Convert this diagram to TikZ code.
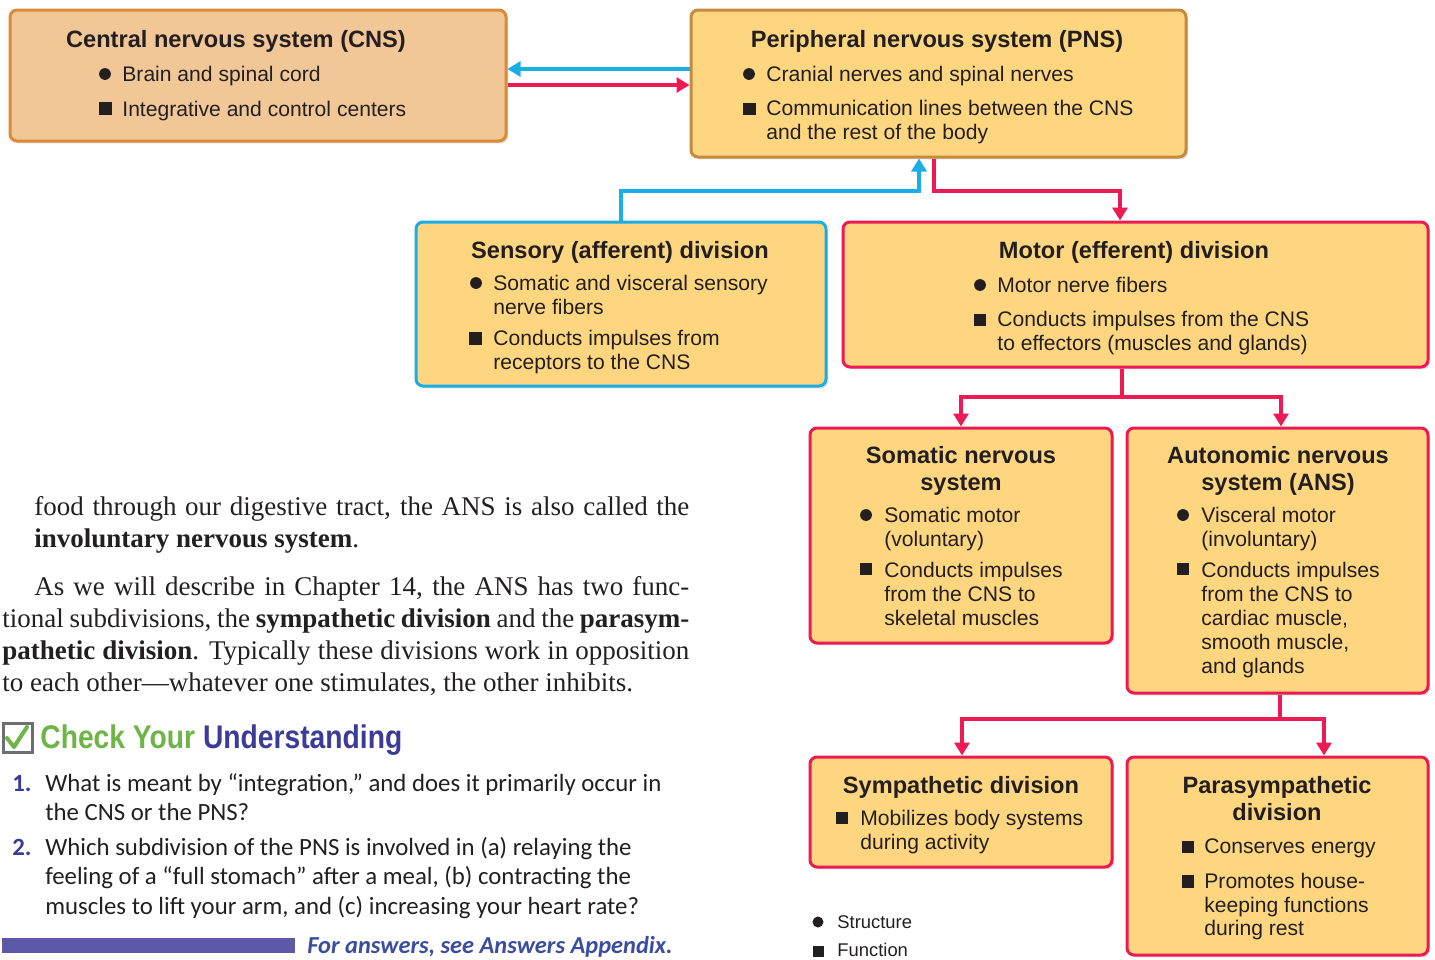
\documentclass[tikz,border=0pt]{standalone}
\usepackage{fontspec}
\setmainfont{Liberation Sans}
\newfontfamily\serifX{Liberation Serif}
\newfontfamily\carlX{Carlito}
\usetikzlibrary{arrows.meta,shadows}
\definecolor{ink}{HTML}{231F20}
\definecolor{cnsfill}{HTML}{F1C797}
\definecolor{cnsline}{HTML}{DB8B35}
\definecolor{yfill}{HTML}{FDD67F}
\definecolor{pnsline}{HTML}{C68A3C}
\definecolor{cblue}{HTML}{1AAEE6}
\definecolor{cred}{HTML}{EC1B54}
\definecolor{cgreen}{HTML}{6DB544}
\definecolor{cpurple}{HTML}{3B3C98}
\definecolor{barcol}{HTML}{5E59A7}
\definecolor{ansblue}{HTML}{3A4DA0}
\definecolor{boxgrey}{HTML}{6D6E71}
\newcommand{\bodyf}{\fontsize{10.55}{12}\selectfont}
\newcommand{\titlef}{\fontsize{11.8}{14}\selectfont\bfseries}
\newcommand{\legf}{\fontsize{9.2}{11}\selectfont}
\newcommand{\parf}{\serifX\fontsize{13.5}{16}\selectfont}
\newcommand{\qf}{\carlX\fontsize{12.4}{14}\selectfont}
\begin{document}
\begin{tikzpicture}[x=0.5pt,y=-0.5pt,
  box/.style={draw=#1, line width=1.5pt, fill=yfill, rounded corners=3.5pt, inner sep=0pt,
    drop shadow={shadow xshift=1pt, shadow yshift=-1.2pt, opacity=0.25}},
  ln/.style={anchor=base west, inner sep=0pt, font=\bodyf, text=ink},
  tl/.style={anchor=base, inner sep=0pt, font=\titlef, text=ink},
  dotb/.style={circle, fill=ink, inner sep=0pt, minimum size=5.9pt},
  sqb/.style={rectangle, fill=ink, inner sep=0pt, minimum size=6.3pt},
  conn/.style={line width=2pt, line join=miter},
  arr/.style={conn, -{Triangle[length=6.5pt,width=7.5pt]}},
  pl/.style={anchor=base west, inner sep=0pt, font=\parf, text=ink},
  ql/.style={anchor=base west, inner sep=0pt, font=\qf, text=ink},
  qn/.style={anchor=base west, inner sep=0pt, font=\qf\bfseries, text=cpurple},
  lg/.style={anchor=base west, inner sep=0pt, font=\legf, text=ink}
]
\useasboundingbox (0,0) rectangle (1435,959);

% ---------- boxes ----------
\node[box=cnsline, fill=cnsfill, minimum width=248pt, minimum height=65.5pt] (cns) at (258,75.5) {};
\node[box=pnsline, minimum width=247.5pt, minimum height=73.5pt] (pns) at (938.5,83.5) {};
\node[box=cblue, minimum width=205pt, minimum height=82pt] (sens) at (621,304) {};
\node[box=cred, minimum width=292.5pt, minimum height=72.5pt] (motor) at (1135.5,294.5) {};
\node[box=cred, minimum width=151pt, minimum height=107.5pt] (som) at (961,535.5) {};
\node[box=cred, minimum width=150.5pt, minimum height=132.5pt] (auto) at (1277.5,560.5) {};
\node[box=cred, minimum width=151pt, minimum height=55pt] (symp) at (961,812) {};
\node[box=cred, minimum width=150.5pt, minimum height=99pt] (para) at (1277.5,856) {};

% ---------- connectors ----------
\coordinate (yb) at (0,69);
\coordinate (yr) at (0,85);
\draw[arr,cblue] (pns.west |- yb) -- (cns.east |- yb);
\draw[arr,cred] (cns.east |- yr) -- (pns.west |- yr);
\coordinate (b1) at (621,191);
\coordinate (b2) at (919,191);
\draw[arr,cblue] (sens.north -| b1) -- (b1) -- (b2) -- (pns.south -| b2);
\coordinate (r1) at (934,191);
\coordinate (r2) at (1120,191);
\draw[arr,cred] (pns.south -| r1) -- (r1) -- (r2) -- (motor.north -| r2);
\coordinate (m0) at (1122,397);
\coordinate (m1) at (961,397);
\coordinate (m2) at (1281,397);
\draw[conn,cred] (motor.south -| m0) -- (m0);
\draw[arr,cred] (m0) -- (m1) -- (som.north -| m1);
\draw[arr,cred] (m0) -- (m2) -- (auto.north -| m2);
\coordinate (a0) at (1280,719);
\coordinate (a1) at (962,719);
\coordinate (a2) at (1324,719);
\draw[conn,cred] (auto.south -| a0) -- (a0);
\draw[arr,cred] (a0) -- (a1) -- (symp.north -| a1);
\draw[arr,cred] (a0) -- (a2) -- (para.north -| a2);

% ---------- CNS ----------
\node[tl] (cnsT) at (236,47) {Central nervous system (CNS)};
\node[dotb] (cnsB1) at (105,74) {};
\node[ln] (cnsL1) at (122,81) {Brain and spinal cord};
\node[sqb] (cnsB2) at (105.5,108.5) {};
\node[ln] (cnsL2) at (122,116) {Integrative and control centers};

% ---------- PNS ----------
\node[tl] (pnsT) at (937,47) {Peripheral nervous system (PNS)};
\node[dotb] (pnsB1) at (749,74) {};
\node[ln] (pnsL1) at (766,81) {Cranial nerves and spinal nerves};
\node[sqb] (pnsB2) at (749.5,109) {};
\node[ln] (pnsL2) at (766,115) {Communication lines between the CNS};
\node[ln] (pnsL3) at (766,139) {and the rest of the body};

% ---------- Sensory ----------
\node[tl] (sensT) at (620,258) {Sensory (afferent) division};
\node[dotb] (sensB1) at (476,283) {};
\node[ln] (sensL1) at (493,290) {Somatic and visceral sensory};
\node[ln] (sensL2) at (493,314) {nerve fibers};
\node[sqb] (sensB2) at (475.5,338.5) {};
\node[ln] (sensL3) at (493,345) {Conducts impulses from};
\node[ln] (sensL4) at (493,369) {receptors to the CNS};

% ---------- Motor ----------
\node[tl] (motT) at (1134,258) {Motor (efferent) division};
\node[dotb] (motB1) at (980,285) {};
\node[ln] (motL1) at (997,292) {Motor nerve fibers};
\node[sqb] (motB2) at (980,320) {};
\node[ln] (motL2) at (997,326) {Conducts impulses from the CNS};
\node[ln] (motL3) at (997,350) {to effectors (muscles and glands)};

% ---------- Somatic ----------
\node[tl] (somT1) at (961,463) {Somatic nervous};
\node[tl] (somT2) at (961,490) {system};
\node[dotb] (somB1) at (866,515) {};
\node[ln] (somL1) at (884,522) {Somatic motor};
\node[ln] (somL2) at (884,546) {(voluntary)};
\node[sqb] (somB2) at (866,569) {};
\node[ln] (somL3) at (884,577) {Conducts impulses};
\node[ln] (somL4) at (884,601) {from the CNS to};
\node[ln] (somL5) at (884,625) {skeletal muscles};

% ---------- Autonomic ----------
\node[tl] (autT1) at (1278,463) {Autonomic nervous};
\node[tl] (autT2) at (1278,490) {system (ANS)};
\node[dotb] (autB1) at (1183,515) {};
\node[ln] (autL1) at (1201,522) {Visceral motor};
\node[ln] (autL2) at (1201,546) {(involuntary)};
\node[sqb] (autB2) at (1183,569) {};
\node[ln] (autL3) at (1201,577) {Conducts impulses};
\node[ln] (autL4) at (1201,601) {from the CNS to};
\node[ln] (autL5) at (1201,625) {cardiac muscle,};
\node[ln] (autL6) at (1201,649) {smooth muscle,};
\node[ln] (autL7) at (1201,673) {and glands};

% ---------- Sympathetic ----------
\node[tl] (symT) at (961,793) {Sympathetic division};
\node[sqb] (symB1) at (842,818) {};
\node[ln] (symL1) at (860,825) {Mobilizes body systems};
\node[ln] (symL2) at (860,849) {during activity};

% ---------- Parasympathetic ----------
\node[tl] (parT1) at (1277,793) {Parasympathetic};
\node[tl] (parT2) at (1277,820) {division};
\node[sqb] (parB1) at (1188,847) {};
\node[ln] (parL1) at (1204,853) {Conserves energy};
\node[sqb] (parB2) at (1188,881.5) {};
\node[ln] (parL2) at (1204,888) {Promotes house-};
\node[ln] (parL3) at (1204,912) {keeping functions};
\node[ln] (parL4) at (1204,935) {during rest};

% ---------- legend ----------
\node[dotb, minimum size=5.5pt] (legB1) at (818,922) {};
\node[lg] (legL1) at (837,928) {Structure};
\node[sqb, minimum size=5.5pt] (legB2) at (818,951) {};
\node[lg] (legL2) at (837,956) {Function};

% ---------- body text ----------
\node[pl] (p1) at (34,515) {\makebox[327.5pt][s]{food through our digestive tract, the ANS is also called the}};
\node[pl] (p2) at (34,547) {\textbf{involuntary nervous system}.};
\node[pl] (p3) at (34,595) {\makebox[327.5pt][s]{As we will describe in Chapter 14, the ANS has two func-}};
\node[pl] (p4) at (2,627) {\makebox[343.5pt][s]{tional subdivisions, the \textbf{sympathetic division} and the \textbf{parasym-}}};
\node[pl] (p5) at (2,659) {\makebox[343.5pt][s]{\textbf{pathetic division}. Typically these divisions work in opposition}};
\node[pl] (p6) at (2,691) {to each other—whatever one stimulates, the other inhibits.};

% ---------- check your understanding ----------
\node[draw=boxgrey, line width=1.5pt, minimum size=14.5pt, inner sep=0pt] (chk) at (17.5,737.5) {};
\draw[cgreen, line width=2pt, line cap=round, line join=round] (7,738) -- (14,747) -- (27,727);
\node[anchor=base west, inner sep=0pt] (cyu) at (40,748)
  {\scalebox{0.905}[1.05]{\fontsize{15.6}{18}\selectfont\bfseries\color{cgreen}Check Your \color{cpurple}Understanding}};
\node[qn] (q1n) at (12,791) {1.};
\node[ql] (q1a) at (45,791) {What is meant by “integration,” and does it primarily occur in};
\node[ql] (q1b) at (45,820) {the CNS or the PNS?};
\node[qn] (q2n) at (12,855) {2.};
\node[ql] (q2a) at (45,855) {Which subdivision of the PNS is involved in (a) relaying the};
\node[ql] (q2b) at (45,884) {feeling of a “full stomach” after a meal, (b) contracting the};
\node[ql] (q2c) at (45,914) {muscles to lift your arm, and (c) increasing your heart rate?};
\node[fill=barcol, inner sep=0pt, minimum width=146.5pt, minimum height=7.5pt] (bar) at (148.5,945.5) {};
\node[anchor=base west, inner sep=0pt, font=\carlX\fontsize{12.2}{14}\selectfont\bfseries\itshape, text=ansblue] (ans) at (307,953) {For answers, see Answers Appendix.};
\end{tikzpicture}
\end{document}
